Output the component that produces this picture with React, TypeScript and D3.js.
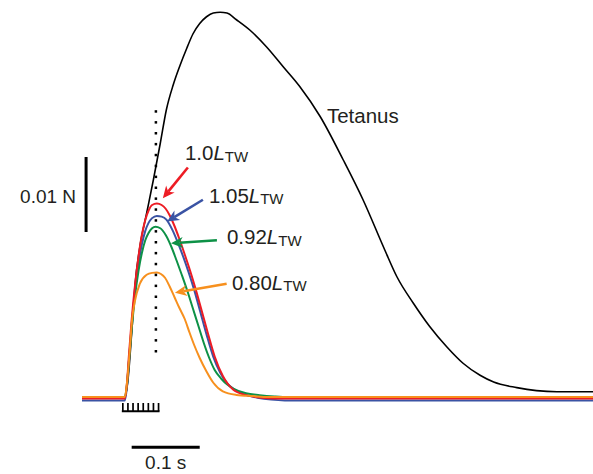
import React from 'react';
import * as d3 from 'd3';

type Pt = [number, number];

// time (ms from stimulus onset), force (mN)
const tetanus: Pt[] = [
  [-63, 0], [0, 0], [4, 1.8], [10, 8.5], [15, 15], [22, 20], [32, 24.5], [42, 29], [52, 33.8],
  [61, 38.3], [71, 41.6], [81, 44.2], [91, 46.5], [100, 48.4], [110, 49.8], [120, 50.7],
  [130, 51.2], [140, 51.3], [150, 51.2], [164, 50.3], [184, 48.9], [208, 46.7], [233, 44],
  [257, 41.4], [287, 37.4], [321, 31.6], [350, 26.3], [382, 19.6], [400, 16], [424, 12.5],
  [448, 9.4], [473, 6.7], [497, 4.5], [522, 2.9], [542, 2.0], [576, 1.25], [605, 0.85],
  [635, 0.7], [688, 0.7],
];

const twitch100: Pt[] = [
  [0, 0], [3, 2], [6, 5.8], [10, 10.5], [15, 15.2], [20, 18.9], [25, 21.8], [30, 23.8],
  [35, 25.1], [40, 25.8], [47, 26], [54, 25.8], [60, 25.3], [66, 24.4], [72, 23.2], [80, 21.3],
  [88, 19.2], [96, 17.0], [104, 14.6], [112, 12.0], [122, 8.7], [132, 5.6], [144, 3.0],
  [159, 1.2], [178, 0.45], [198, 0.13], [220, 0],
];

const twitch105: Pt[] = [
  [0, 0], [3, 1.8], [6, 5.3], [10, 10], [15, 14.6], [20, 18.2], [25, 20.8], [30, 22.6],
  [35, 23.7], [40, 24.3], [47, 24.6], [54, 24.5], [61, 24.1], [70, 22.7], [78, 21.0],
  [86, 19.1], [94, 17.0], [102, 14.7], [110, 12.1], [120, 8.8], [130, 5.8], [140, 3.7],
  [150, 2.3], [160, 1.5], [170, 1.0], [183, 0.6], [195, 0.35], [215, 0.1], [235, 0],
];

const twitch092: Pt[] = [
  [0, 0], [3, 1.6], [6, 4.8], [10, 9], [15, 13.5], [20, 16.8], [25, 19.2], [30, 20.9],
  [35, 21.9], [40, 22.5], [45, 22.7], [52, 22.5], [60, 21.6], [68, 20.1], [76, 18.2],
  [84, 16.2], [92, 14.1], [100, 11.8], [108, 9.5], [116, 7.2], [124, 5.2], [132, 3.6],
  [142, 2.4], [150, 1.7], [160, 1.1], [178, 0.5], [198, 0.25], [220, 0.08], [240, 0],
];

const twitch080: Pt[] = [
  [0, 0], [3, 1.8], [7, 6], [10.5, 10.2], [14.5, 12.7], [22, 15.1], [32, 16.3], [40, 16.55],
  [47, 16.6], [53, 16.4], [59, 15.9], [66, 14.7], [73, 13.3], [80, 11.9], [88, 10.4],
  [95, 8.6], [102, 6.9], [110, 5.2], [120, 3.4], [130, 1.9], [144, 0.75], [164, 0.28],
  [189, 0.12], [210, 0],
];

// resting level of each twitch trace (mN)
const restLevels = { r100: -0.2, r105: -0.45, r092: 0, r080: 0 };

const stimTimes = [-3, 4.5, 12, 19.5, 27, 34.5, 42, 49.5];

const labels = [
  { num: '1.0', color: '#ed1c24', text: [88.2, 31.6], from: [92.6, 30.6], tip: [55.8, 26.5] },
  { num: '1.05', color: '#3a53a4', text: [123.5, 25.9], from: [114.7, 26.3], tip: [62, 23.4] },
  { num: '0.92', color: '#0d9146', text: [150, 20.4], from: [135.3, 20.9], tip: [67.8, 20.5] },
  { num: '0.80', color: '#f7901e', text: [157.4, 14.3], from: [149.6, 15.1], tip: [73.6, 13.9] },
];

const tetanusLabel = { text: 'Tetanus', at: [297, 36.6] };
const dotTime = 45.6;
const dotRange = [6.1, 38.4];
const timeBar = { from: 10, to: 110, level: -6.7, label: '0.1 s' };
const forceBar = { at: -57, from: 22, to: 32, label: '0.01 N' };

const W = 593;
const H = 474;
const FONT = '"Liberation Sans", Arial, Helvetica, sans-serif';
const TXT = '#231f20';

const x = d3.scaleLinear().domain([-63, 688]).range([82, 593]);
const y = d3.scaleLinear().domain([0, 10]).range([397, 322]);

const line = d3
  .line<Pt>()
  .x((d) => x(d[0]))
  .y((d) => y(d[1]))
  .curve(d3.curveMonotoneX);

function withRest(data: Pt[], rest: number): Pt[] {
  const pts: Pt[] = data.map((d) => [d[0], d[1] + rest] as Pt);
  return [[-63, rest], ...pts, [688, rest]];
}

function Arrow({ from, tip, color }: { from: number[]; tip: number[]; color: string }) {
  const x0 = x(from[0]);
  const y0 = y(from[1]);
  const x1 = x(tip[0]);
  const y1 = y(tip[1]);
  const dx = x1 - x0;
  const dy = y1 - y0;
  const len = Math.hypot(dx, dy);
  const ux = dx / len;
  const uy = dy / len;
  const nx = -uy;
  const ny = ux;
  const L = 12;
  const w = 5.5;
  const notch = 3.5;
  const bx = x1 - L * ux;
  const by = y1 - L * uy;
  const mx = x1 - (L - notch) * ux;
  const my = y1 - (L - notch) * uy;
  const head = `M${x1},${y1}L${bx + w * nx},${by + w * ny}L${mx},${my}L${bx - w * nx},${by - w * ny}Z`;
  return (
    <g>
      <line x1={x0} y1={y0} x2={mx} y2={my} stroke={color} strokeWidth={2.6} />
      <path d={head} fill={color} />
    </g>
  );
}

export default function App() {
  const series = [
    { d: tetanus, c: '#000', w: 1.6 },
    { d: withRest(twitch105, restLevels.r105), c: '#3a53a4', w: 2 },
    { d: withRest(twitch092, restLevels.r092), c: '#0d9146', w: 2 },
    { d: withRest(twitch100, restLevels.r100), c: '#ed1c24', w: 2 },
    { d: withRest(twitch080, restLevels.r080), c: '#f7901e', w: 2 },
  ];

  const stimTop = y(-0.8);
  const stimBase = y(-1.9);
  const dotTop = y(dotRange[1]);
  const dotBottom = y(dotRange[0]);
  const dots = d3.range(dotBottom, dotTop - 1, -10.9);

  return (
    <svg
      width={W}
      height={H}
      style={{ position: 'absolute', left: 0, top: 0, background: '#fff' }}
      fontFamily={FONT}
    >
      <rect x={0} y={0} width={W} height={H} fill="#fff" />
      {series.map((s, i) => (
        <path key={i} d={line(s.d) || ''} fill="none" stroke={s.c} strokeWidth={s.w} strokeLinejoin="round" />
      ))}

      {dots.map((dy, i) => (
        <rect key={i} x={x(dotTime) - 1.25} y={dy - 1.25} width={2.5} height={2.5} fill="#000" />
      ))}

      {/* stimulus train */}
      <line
        x1={x(stimTimes[0]) - 1}
        x2={x(stimTimes[stimTimes.length - 1]) + 1}
        y1={stimBase}
        y2={stimBase}
        stroke="#000"
        strokeWidth={2}
      />
      {stimTimes.map((t, i) => (
        <line key={i} x1={x(t)} x2={x(t)} y1={stimTop} y2={stimBase} stroke="#000" strokeWidth={1.7} />
      ))}

      {/* labels and arrows */}
      {labels.map((l, i) => (
        <g key={i}>
          <Arrow from={l.from} tip={l.tip} color={l.color} />
          <text x={x(l.text[0])} y={y(l.text[1])} fontSize={20.5} fill={TXT}>
            {l.num}
            <tspan fontStyle="italic">L</tspan>
            <tspan fontSize={15} dy={1.5}>TW</tspan>
          </text>
        </g>
      ))}
      <text x={x(tetanusLabel.at[0])} y={y(tetanusLabel.at[1])} fontSize={20.5} fill={TXT}>
        {tetanusLabel.text}
      </text>

      {/* scale bars */}
      <line
        x1={x(timeBar.from)}
        x2={x(timeBar.to)}
        y1={y(timeBar.level)}
        y2={y(timeBar.level)}
        stroke="#000"
        strokeWidth={3}
      />
      <text
        x={(x(timeBar.from) + x(timeBar.to)) / 2}
        y={y(timeBar.level) + 22}
        fontSize={19}
        textAnchor="middle"
        fill={TXT}
      >
        {timeBar.label}
      </text>
      <line
        x1={x(forceBar.at)}
        x2={x(forceBar.at)}
        y1={y(forceBar.from)}
        y2={y(forceBar.to)}
        stroke="#000"
        strokeWidth={3}
      />
      <text
        x={x(forceBar.at) - 10}
        y={(y(forceBar.from) + y(forceBar.to)) / 2 + 8}
        fontSize={19}
        textAnchor="end"
        fill={TXT}
      >
        {forceBar.label}
      </text>
    </svg>
  );
}
